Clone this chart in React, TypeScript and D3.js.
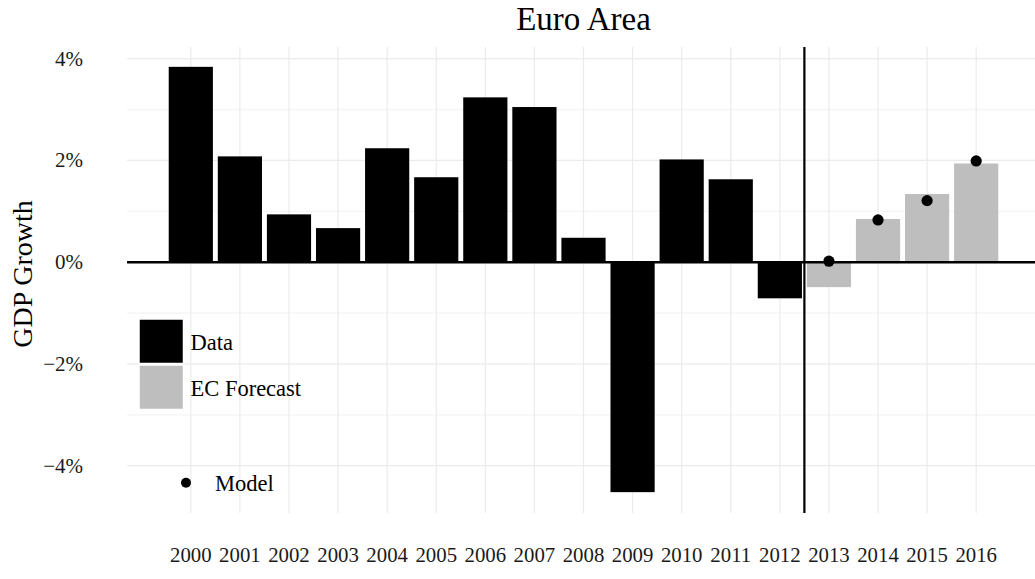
import React from "react";
import * as d3 from "d3";

const years = [2000, 2001, 2002, 2003, 2004, 2005, 2006, 2007, 2008, 2009, 2010, 2011, 2012, 2013, 2014, 2015, 2016];
const dataYears = [2000, 2001, 2002, 2003, 2004, 2005, 2006, 2007, 2008, 2009, 2010, 2011, 2012];
const dataValues = [3.84, 2.08, 0.94, 0.67, 2.24, 1.67, 3.24, 3.05, 0.48, -4.52, 2.02, 1.63, -0.71];
const forecastYears = [2013, 2014, 2015, 2016];
const forecastValues = [-0.49, 0.85, 1.34, 1.94];
const modelYears = [2013, 2014, 2015, 2016];
const modelValues = [0.02, 0.83, 1.21, 1.99];
const yMajorTicks = [-4, -2, 0, 2, 4];
const yMinorTicks = [-3, -1, 1, 3];
const splitYear = 2012.5;

const W = 1035;
const H = 579;
const FONT = "'Palatino Linotype', 'Book Antiqua', Palatino, 'Liberation Serif', serif";

export default function App() {
  const left = 127;
  const right = 1040;
  const top = 47;
  const bottom = 513;

  const x = d3.scaleLinear().domain([1998.7, 2017.3]).range([left, right]);
  const y = d3.scaleLinear().domain([-4.93, 4.23]).range([bottom, top]);
  const bw = (x(1) - x(0)) * 0.9;
  const fmt = (v: number) => (v < 0 ? "\u2212" : "") + Math.abs(v) + "%";

  const bars = [
    ...dataYears.map((yr, i) => ({ yr, v: dataValues[i], fill: "#000000" })),
    ...forecastYears.map((yr, i) => ({ yr, v: forecastValues[i], fill: "#bebebe" })),
  ];

  return (
    <svg width={W} height={H} style={{ position: "absolute", left: 0, top: 0, background: "#fff" }} fontFamily={FONT}>
      <rect x={0} y={0} width={W} height={H} fill="#fff" />
      {/* minor horizontal grid */}
      {yMinorTicks.map((t) => (
        <line key={"mn" + t} x1={left} x2={right} y1={y(t)} y2={y(t)} stroke="#f4f4f4" strokeWidth={1.2} />
      ))}
      {/* major horizontal grid */}
      {yMajorTicks.map((t) => (
        <line key={"mj" + t} x1={left} x2={right} y1={y(t)} y2={y(t)} stroke="#ebebeb" strokeWidth={1.2} />
      ))}
      {/* vertical grid */}
      {years.map((yr) => (
        <line key={"v" + yr} x1={x(yr)} x2={x(yr)} y1={top} y2={bottom} stroke="#ebebeb" strokeWidth={1.2} />
      ))}
      {/* bars */}
      {bars.map((b) => (
        <rect
          key={"b" + b.yr}
          x={x(b.yr) - bw / 2}
          width={bw}
          y={Math.min(y(b.v), y(0))}
          height={Math.abs(y(b.v) - y(0))}
          fill={b.fill}
        />
      ))}
      {/* zero line */}
      <line x1={left} x2={right} y1={y(0)} y2={y(0)} stroke="#000" strokeWidth={2.6} />
      {/* split line */}
      <line x1={x(splitYear)} x2={x(splitYear)} y1={top} y2={bottom} stroke="#000" strokeWidth={2.2} />
      {/* model points */}
      {modelYears.map((yr, i) => (
        <circle key={"m" + yr} cx={x(yr)} cy={y(modelValues[i])} r={5.6} fill="#000" />
      ))}
      {/* y tick labels */}
      {yMajorTicks.map((t) => (
        <text key={"yl" + t} x={83} y={y(t) + 7} textAnchor="end" fontSize={21} fill="#1a1a1a">
          {fmt(t)}
        </text>
      ))}
      {/* x tick labels */}
      {years.map((yr) => (
        <text key={"xl" + yr} x={x(yr)} y={562} textAnchor="middle" fontSize={20.8} fill="#1a1a1a">
          {yr}
        </text>
      ))}
      {/* title */}
      <text x={x(2008)} y={30} textAnchor="middle" fontSize={33} fill="#000">
        Euro Area
      </text>
      {/* y axis title */}
      <text transform={`translate(32, 274) rotate(-90)`} textAnchor="middle" fontSize={28} fill="#000">
        GDP Growth
      </text>
      {/* legend */}
      <rect x={139} y={319} width={44.5} height={44.5} fill="#000" stroke="#fff" strokeWidth={1.5} />
      <rect x={139} y={365} width={44.5} height={44.5} fill="#bebebe" stroke="#fff" strokeWidth={1.5} />
      <text x={190.5} y={350} fontSize={22.5} fill="#000">Data</text>
      <text x={190.5} y={396} fontSize={22.5} fill="#000">EC Forecast</text>
      <circle cx={186} cy={482.7} r={5} fill="#000" />
      <text x={215} y={490.5} fontSize={22.5} fill="#000">Model</text>
    </svg>
  );
}
